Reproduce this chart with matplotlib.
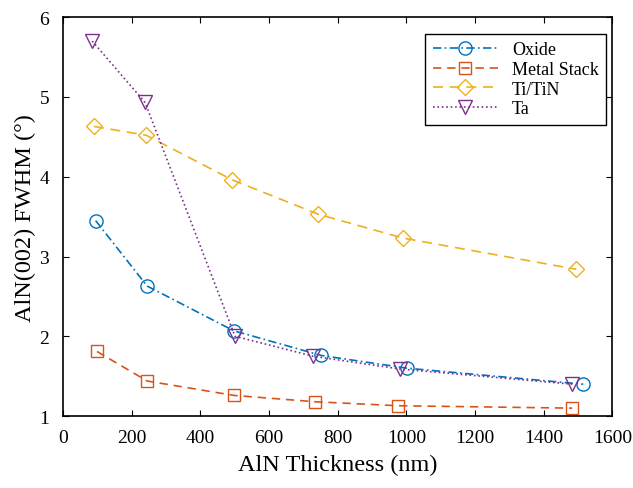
import matplotlib
matplotlib.use("Agg")
import matplotlib.pyplot as plt

plt.rcParams['font.family'] = ['Liberation Serif', 'DejaVu Serif']
plt.rcParams['mathtext.fontset'] = 'stix'

oxide_x = [95, 245, 497, 752, 1003, 1515]
oxide_y = [3.45, 2.63, 2.07, 1.76, 1.60, 1.40]
metal_x = [99, 245, 497, 734, 976, 1483]
metal_y = [1.81, 1.44, 1.26, 1.18, 1.13, 1.10]
titin_x = [90, 242, 493, 743, 991, 1495]
titin_y = [4.63, 4.52, 3.96, 3.53, 3.23, 2.84]
ta_x = [85, 239, 501, 729, 982, 1483]
ta_y = [5.70, 4.93, 2.00, 1.75, 1.59, 1.40]
labels = ['Oxide', 'Metal Stack', 'Ti/TiN', 'Ta']
colors = ['#0072BD', '#D95319', '#EDB120', '#7E2F8E']

fig = plt.figure(figsize=(6.33, 4.89), dpi=100)
ax = fig.add_axes([0.0995, 0.147, 0.868, 0.816])

ms = 9.5
ax.plot(oxide_x, oxide_y, linestyle=(0, (5, 2, 1, 2)), marker='o', color=colors[0], mfc='none', ms=ms, lw=1.2, label=labels[0])
ax.plot(metal_x, metal_y, linestyle=(0, (5, 3.5)), marker='s', color=colors[1], mfc='none', ms=ms-1, lw=1.2, label=labels[1])
ax.plot(titin_x, titin_y, linestyle=(0, (6, 4)), marker='D', color=colors[2], mfc='none', ms=ms-1, lw=1.2, label=labels[2])
ax.plot(ta_x, ta_y, linestyle=':', marker='v', color=colors[3], mfc='none', ms=ms+1, lw=1.2, label=labels[3])

ax.set_xlim(0, 1600)
ax.set_ylim(1, 6)
ax.set_xticks(range(0, 1601, 200))
ax.set_yticks([1, 2, 3, 4, 5, 6])
ax.tick_params(direction='in', top=True, right=True, labelsize=14, length=4.5)
ax.tick_params(axis='x', pad=9)
ax.tick_params(axis='y', pad=10)
for s in ax.spines.values():
    s.set_linewidth(1.2)
ax.set_xlabel('AlN Thickness (nm)', fontsize=17.5, labelpad=6)
ax.set_ylabel('AlN(002) FWHM (°)', fontsize=17.5, labelpad=2)

leg = ax.legend(loc='upper right', fontsize=13, frameon=True, fancybox=False,
                edgecolor='black', framealpha=1, borderaxespad=0.5,
                handlelength=3.6, labelspacing=0.15, borderpad=0.4,
                bbox_to_anchor=(1.005, 0.98))
leg.get_frame().set_linewidth(1.0)

fig.savefig('out.png', dpi=100)
